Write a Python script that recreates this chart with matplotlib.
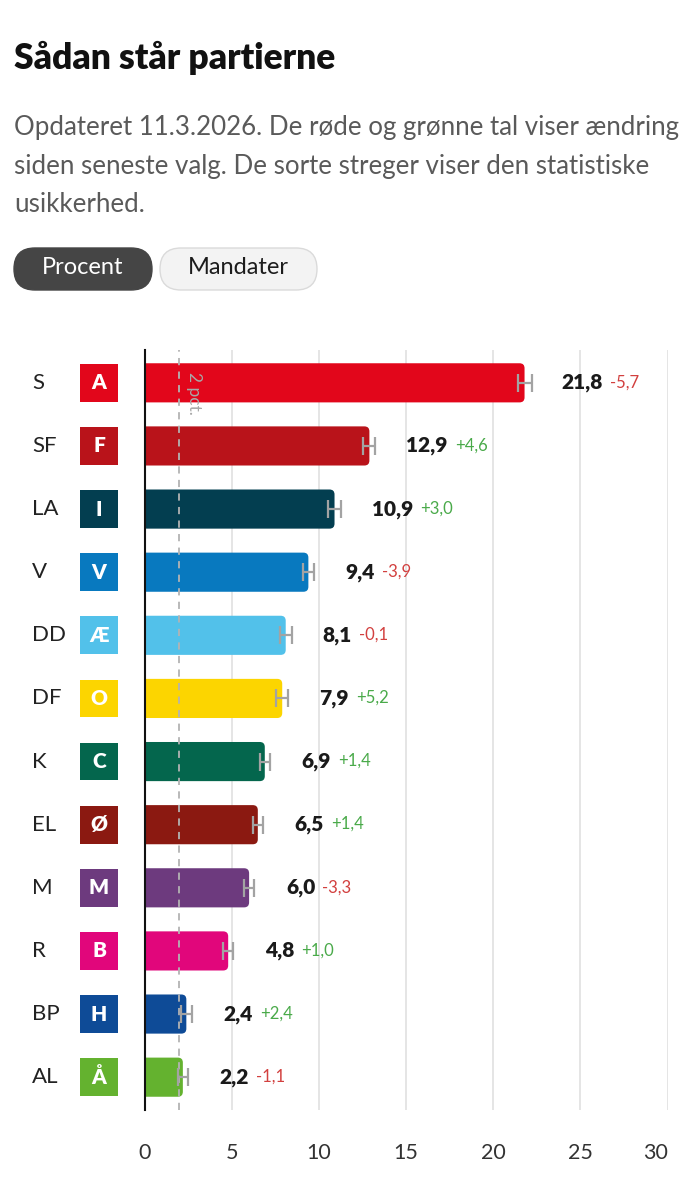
import matplotlib
matplotlib.use("Agg")
import matplotlib.pyplot as plt
from matplotlib.patches import FancyBboxPatch, Rectangle
from matplotlib import transforms

# ---- data ----
parties = ['S', 'SF', 'LA', 'V', 'DD', 'DF', 'K', 'EL', 'M', 'R', 'BP', 'AL']
letters = ['A', 'F', 'I', 'V', 'Æ', 'O', 'C', 'Ø', 'M', 'B', 'H', 'Å']
values = [21.8, 12.9, 10.9, 9.4, 8.1, 7.9, 6.9, 6.5, 6.0, 4.8, 2.4, 2.2]
changes = [-5.7, 4.6, 3.0, -3.9, -0.1, 5.2, 1.4, 1.4, -3.3, 1.0, 2.4, -1.1]
uncertainty = [0.4, 0.35, 0.35, 0.3, 0.35, 0.35, 0.3, 0.3, 0.3, 0.3, 0.3, 0.3]
colors = ['#e2061b', '#b9131a', '#033e50', '#0879bf', '#52c1ea', '#fcd500',
          '#04664d', '#8b1911', '#6d3a7e', '#e1067b', '#0e4b97', '#64b22f']
xticks = [0, 5, 10, 15, 20, 25, 30]
threshold = 2
title = 'Sådan står partierne'
subtitle_lines = ['Opdateret 11.3.2026. De røde og grønne tal viser ændring',
                  'siden seneste valg. De sorte streger viser den statistiske',
                  'usikkerhed.']
buttons = ['Procent', 'Mandater']

FONT = ['Lato', 'DejaVu Sans']
plt.rcParams['font.family'] = FONT

W, H = 698, 1200
fig = plt.figure(figsize=(W / 100, H / 100), dpi=100)
fig.patch.set_facecolor('white')

# background overlay in pixel coordinates
bg = fig.add_axes([0, 0, 1, 1])
bg.set_xlim(0, W)
bg.set_ylim(H, 0)
bg.axis('off')

bg.text(14, 58, title, fontsize=25.5, fontweight='heavy', color='#111111',
        ha='left', va='center')
for k, line in enumerate(subtitle_lines):
    bg.text(14, 128 + k * 38.5, line, fontsize=18.6, color='#5a5a5a',
            ha='left', va='center')

# pills
bg.add_patch(FancyBboxPatch((14, 248), 138, 42,
                            boxstyle='round,pad=0,rounding_size=21',
                            fc='#454545', ec='#454545', lw=1))
bg.text(83, 268, buttons[0], fontsize=17, color='white', ha='center', va='center')
bg.add_patch(FancyBboxPatch((160, 248), 157, 42,
                            boxstyle='round,pad=0,rounding_size=21',
                            fc='#f3f3f3', ec='#dadada', lw=1))
bg.text(238.5, 268, buttons[1], fontsize=17, color='#1c1c1c', ha='center', va='center')

# main axes
left_px, right_px, top_px, bot_px = 144.5, 667.5, 350, 1110
ax = fig.add_axes([left_px / W, 1 - bot_px / H, (right_px - left_px) / W,
                   (bot_px - top_px) / H])
ax.set_facecolor('none')
n = len(parties)
ypos = list(range(n))
ax.set_xlim(0, 30)
ax.set_ylim(n - 1 + 0.52, -0.52)

# aspect for rounded bars
px_per_x = (right_px - left_px) / 30
px_per_y = (bot_px - top_px) / (n - 1 + 1.04)
aspect = px_per_x / px_per_y

bar_h = 0.62
bars = ax.barh(ypos, values, height=bar_h, color=colors, zorder=2)
r = 5 / px_per_x
for b, c in zip(bars, colors):
    x0, y0, w, h = b.get_x(), b.get_y(), b.get_width(), b.get_height()
    b.set_visible(False)
    # rounded bar extended left past the axis so only right corners show
    ax.add_patch(FancyBboxPatch((x0 - 2 * r, y0), w + 2 * r, h,
                                boxstyle=f'round,pad=0,rounding_size={r}',
                                mutation_aspect=aspect, fc=c, ec='none',
                                zorder=2, clip_on=True))

ax.errorbar(values, ypos, xerr=uncertainty, fmt='none', ecolor='#a3a3a3',
            elinewidth=1.6, capsize=6.5, capthick=1.6, zorder=4)

ax.axvline(threshold, color='#b3b3b3', lw=1.3, ls=(0, (4, 3.5)), zorder=3)
ax.text(threshold + 0.38, -0.17, f'{threshold} pct.', rotation=-90, ha='left',
        va='top', fontsize=12.5, color='#a8a8a8', zorder=3)

# grid & spines
ax.set_xticks(xticks)
ax.set_xticklabels([str(t) for t in xticks])
ax.set_yticks([])
ax.set_axisbelow(True)
ax.xaxis.grid(True, color='#e3e3e3', lw=1.3, zorder=0)
for s in ['top', 'right', 'bottom']:
    ax.spines[s].set_visible(False)
ax.spines['left'].set_color('#111111')
ax.spines['left'].set_linewidth(1.5)
ax.spines['left'].set_zorder(5)
ax.tick_params(axis='x', length=0, pad=24, labelsize=15.5, labelcolor='#333333')
ax.get_xticklabels()[-1].set_ha('right')

# row labels & badges
blend = transforms.blended_transform_factory(bg.transData, ax.transData)
for i, (p, l, c) in enumerate(zip(parties, letters, colors)):
    ax.text(32, i, p, transform=blend, ha='left', va='center', fontsize=16,
            color='#222222', clip_on=False)
    ax.add_patch(Rectangle((80, i - 0.3), 38, 0.6, transform=blend, fc=c,
                           ec='none', clip_on=False))
    ax.text(99, i, l, transform=blend, ha='center', va='center', fontsize=15,
            fontweight='heavy', color='white', clip_on=False)

# value labels and changes
for i, (v, ch) in enumerate(zip(values, changes)):
    t = ax.annotate(f'{v:.1f}'.replace('.', ','), xy=(v, i), xytext=(37 * 0.72, 0),
                    textcoords='offset points', ha='left', va='center',
                    fontsize=15, fontweight='heavy', color='#1a1a1a',
                    annotation_clip=False)
    sign = '+' if ch > 0 else '-'
    txt = sign + f'{abs(ch):.1f}'.replace('.', ',')
    col = '#4aaa4a' if ch > 0 else '#d2403f'
    ax.annotate(txt, xy=(1, 0), xycoords=t, xytext=(5, 1.5),
                textcoords='offset points', ha='left', va='bottom',
                fontsize=12, color=col, annotation_clip=False)

fig.savefig('out.png', dpi=100, facecolor='white')
